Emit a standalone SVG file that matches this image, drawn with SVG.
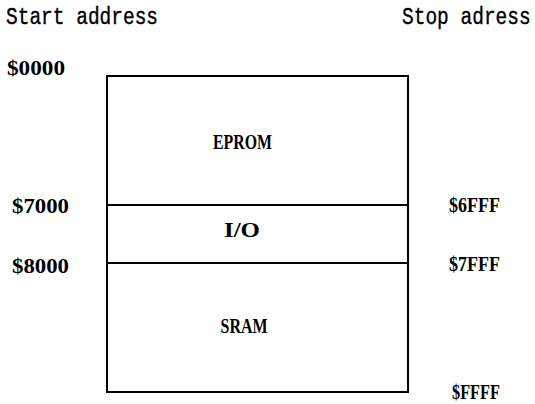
<svg xmlns="http://www.w3.org/2000/svg" width="535" height="404" viewBox="0 0 535 404">
<style>
.hdr{font-family:"Liberation Mono",monospace;font-size:19.5px;fill:#000;stroke:#000;stroke-width:0.3}
.lbl{font-family:"Liberation Serif",serif;font-weight:bold;font-size:21px;fill:#000}
.box{fill:#fff;stroke:#000;stroke-width:2}
.sep{stroke:#000;stroke-width:2}
</style>
<rect width="535" height="404" fill="#fff"/>
<g id="headers">
<text class="hdr" transform="translate(6,24) scale(1,1.25)">Start address</text>
<text class="hdr" transform="translate(402,24) scale(1,1.25)">Stop adress</text>
</g>
<g id="memory">
<rect class="box" x="107" y="76" width="301" height="316"/>
</g>
<g id="connectors">
<line class="sep" x1="107" y1="205" x2="408" y2="205"/>
<line class="sep" x1="107" y1="263" x2="408" y2="263"/>
</g>
<g id="eprom"><text class="lbl" x="242.5" y="149" text-anchor="middle" textLength="59" lengthAdjust="spacingAndGlyphs">EPROM</text></g>
<g id="io"><text class="lbl" x="242" y="237" text-anchor="middle" textLength="36" lengthAdjust="spacingAndGlyphs">I/O</text></g>
<g id="sram"><text class="lbl" x="244" y="333" text-anchor="middle" textLength="47" lengthAdjust="spacingAndGlyphs">SRAM</text></g>
<g id="start-addresses">
<text class="lbl" x="7" y="75" textLength="58" lengthAdjust="spacingAndGlyphs">$0000</text>
<text class="lbl" x="12" y="213" textLength="57" lengthAdjust="spacingAndGlyphs">$7000</text>
<text class="lbl" x="12" y="273" textLength="57" lengthAdjust="spacingAndGlyphs">$8000</text>
</g>
<g id="stop-addresses">
<text class="lbl" x="449" y="212" textLength="51" lengthAdjust="spacingAndGlyphs">$6FFF</text>
<text class="lbl" x="449" y="271" textLength="51" lengthAdjust="spacingAndGlyphs">$7FFF</text>
<text class="lbl" x="452" y="399" textLength="48" lengthAdjust="spacingAndGlyphs">$FFFF</text>
</g>
</svg>
